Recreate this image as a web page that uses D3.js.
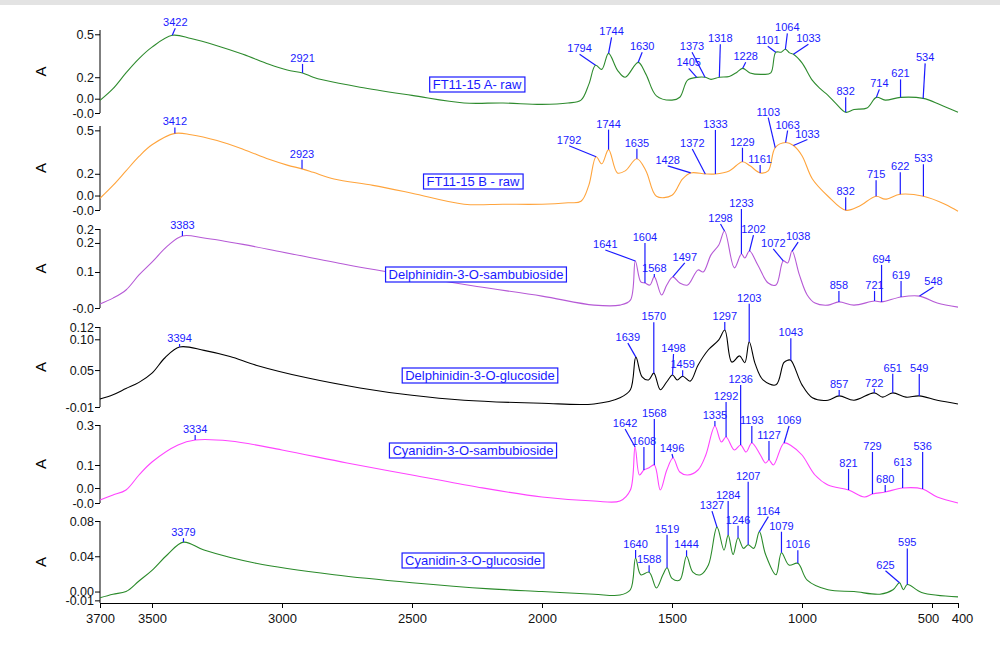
<!DOCTYPE html>
<html><head><meta charset="utf-8">
<script src="https://cdn.jsdelivr.net/npm/d3@7/dist/d3.min.js"></script>
<style>body{margin:0;background:#fff}</style></head>
<body><svg id="c" width="1000" height="650"></svg>
<script>
const names=["FT11-15 A- raw","FT11-15 B - raw","Delphinidin-3-O-sambubioside","Delphinidin-3-O-glucoside","Cyanidin-3-O-sambubioside","Cyanidin-3-O-glucoside"];
const colors=["#2e8b2e","#ffa43c","#b65ad6","#000000","#ff44ff","#2a8a2a"];
const s1=[[3700,0.038],[3650,0.12],[3600,0.23],[3550,0.33],[3500,0.41],[3422,0.493],[3350,0.47],[3250,0.42],[3150,0.36],[3050,0.29],[2980,0.25],[2921,0.23],[2880,0.2],[2840,0.18],[2700,0.13],[2500,0.073],[2300,0.02],[2150,0.02],[2000,0.01],[1900,0.02],[1850,0.04],[1820,0.15],[1794,0.283],[1770,0.255],[1744,0.367],[1710,0.25],[1680,0.2],[1630,0.304],[1600,0.22],[1560,0.07],[1500,0.04],[1470,0.06],[1440,0.18],[1405,0.199],[1373,0.2],[1350,0.185],[1318,0.2],[1280,0.205],[1250,0.235],[1228,0.262],[1200,0.23],[1150,0.22],[1120,0.23],[1101,0.374],[1080,0.375],[1064,0.395],[1048,0.37],[1033,0.36],[1000,0.3],[960,0.178],[930,0.12],[900,0.073],[870,0.017],[832,-0.045],[800,-0.025],[750,-0.015],[714,0.059],[680,0.04],[621,0.059],[534,0.052],[470,0.01],[400,-0.045]];
const s2=[[3700,0.031],[3650,0.12],[3600,0.22],[3550,0.32],[3500,0.4],[3412,0.479],[3350,0.47],[3250,0.43],[3150,0.37],[3050,0.3],[2980,0.26],[2923,0.234],[2880,0.21],[2800,0.164],[2650,0.12],[2500,0.066],[2300,-0.01],[2150,-0.01],[2000,-0.01],[1900,0.0],[1850,0.01],[1820,0.12],[1792,0.318],[1770,0.269],[1744,0.367],[1710,0.206],[1680,0.22],[1635,0.304],[1600,0.22],[1560,0.045],[1500,0.052],[1460,0.164],[1428,0.206],[1372,0.199],[1333,0.199],[1280,0.22],[1229,0.283],[1200,0.255],[1161,0.206],[1130,0.22],[1103,0.381],[1063,0.416],[1033,0.395],[1000,0.325],[960,0.164],[900,0.045],[832,-0.052],[780,-0.024],[715,0.045],[680,0.025],[622,0.059],[533,0.045],[450,-0.01],[400,-0.059]];
const s3=[[3700,-0.01],[3650,0.01],[3600,0.038],[3550,0.09],[3500,0.134],[3440,0.19],[3383,0.224],[3300,0.217],[3150,0.195],[3000,0.169],[2750,0.125],[2500,0.086],[2250,0.05],[2000,0.017],[1800,-0.014],[1700,-0.014],[1660,0.003],[1641,0.138],[1620,0.066],[1604,0.062],[1585,0.055],[1568,0.083],[1540,0.021],[1520,0.055],[1497,0.083],[1470,0.062],[1440,0.055],[1400,0.107],[1380,0.1],[1350,0.159],[1320,0.193],[1298,0.241],[1260,0.114],[1233,0.162],[1220,0.148],[1202,0.172],[1170,0.124],[1130,0.062],[1100,0.055],[1072,0.138],[1055,0.131],[1038,0.172],[1010,0.09],[980,0.021],[950,-0.007],[900,-0.014],[858,-0.003],[800,-0.014],[721,0.0],[694,-0.003],[619,0.014],[548,0.017],[480,-0.007],[400,-0.021]];
const s4=[[3700,0.003],[3650,0.01],[3600,0.02],[3550,0.03],[3500,0.045],[3450,0.07],[3394,0.0875],[3300,0.082],[3200,0.072],[3100,0.058],[2900,0.037],[2700,0.021],[2500,0.009],[2300,0.001],[2000,-0.004],[1800,-0.005],[1700,0.005],[1660,0.018],[1639,0.071],[1615,0.039],[1590,0.034],[1570,0.045],[1545,0.018],[1520,0.031],[1498,0.042],[1480,0.034],[1459,0.04],[1430,0.032],[1400,0.058],[1360,0.083],[1320,0.099],[1297,0.115],[1270,0.063],[1240,0.073],[1220,0.062],[1203,0.096],[1180,0.06],[1150,0.034],[1100,0.026],[1070,0.062],[1055,0.066],[1043,0.066],[1000,0.026],[960,0.005],[900,0.001],[857,0.008],[800,0.001],[722,0.013],[690,0.006],[651,0.013],[600,0.006],[549,0.008],[480,0.001],[400,-0.005]];
const s5=[[3700,-0.075],[3650,-0.05],[3600,-0.025],[3550,0.05],[3500,0.115],[3400,0.2],[3334,0.225],[3200,0.22],[3000,0.175],[2750,0.11],[2500,0.05],[2250,-0.01],[2000,-0.06],[1800,-0.08],[1700,-0.08],[1660,-0.025],[1642,0.19],[1625,0.05],[1608,0.075],[1590,0.085],[1568,0.1],[1545,-0.025],[1520,0.075],[1496,0.135],[1470,0.065],[1440,0.05],[1400,0.075],[1370,0.15],[1335,0.295],[1310,0.215],[1292,0.24],[1260,0.175],[1236,0.2],[1215,0.165],[1193,0.21],[1160,0.15],[1140,0.11],[1127,0.125],[1110,0.1],[1069,0.21],[1040,0.195],[1000,0.15],[950,0.05],[900,0.0],[821,-0.025],[760,-0.06],[729,-0.045],[680,-0.035],[613,-0.015],[536,-0.02],[480,-0.06],[400,-0.09]];
const s6=[[3700,-0.007],[3650,-0.003],[3600,0.0],[3550,0.012],[3500,0.024],[3440,0.042],[3379,0.056],[3300,0.047],[3100,0.032],[2800,0.019],[2500,0.01],[2200,0.003],[2000,0.0],[1800,-0.003],[1700,-0.004],[1660,0.002],[1640,0.038],[1620,0.019],[1588,0.022],[1560,0.004],[1535,0.019],[1519,0.027],[1500,0.015],[1470,0.013],[1444,0.04],[1420,0.022],[1390,0.019],[1360,0.03],[1327,0.073],[1300,0.047],[1284,0.064],[1265,0.042],[1246,0.061],[1225,0.049],[1207,0.053],[1185,0.049],[1164,0.068],[1140,0.042],[1100,0.019],[1079,0.044],[1050,0.03],[1016,0.032],[980,0.013],[900,0.002],[800,0.0],[700,-0.003],[650,0.002],[625,0.01],[610,0.002],[595,0.008],[540,-0.001],[400,-0.006]];
const series=[s1,s2,s3,s4,s5,s6];
const yDomains=[[-0.05,0.53],[-0.05,0.53],[-0.024,0.248],[-0.01,0.12],[-0.09,0.3],[-0.013,0.08]];
const yTicks=[[0.5,0.2,0.05,-0.05],[0.5,0.2,0.05,-0.05],[0.248,0.2,0.1,-0.024],[0.12,0.10,0.05,-0.01],[0.3,0.1,-0.015,-0.09],[0.08,0.04,0.0,-0.01]];
const yTickLabels=[["0.5","0.2","0.0","-0.0"],["0.5","0.2","0.0","-0.0"],["0.2","0.2","0.1","-0.0"],["0.12","0.10","0.05","-0.01"],["0.3","0.1","0.0","-0.0"],["0.08","0.04","0.00","-0.01"]];
const xTicks=[3700,3500,3000,2500,2000,1500,1000,500,400];
const peaks=[[3422,2921,1794,1744,1630,1405,1373,1318,1228,1101,1064,1033,832,714,621,534],
[3412,2923,1792,1744,1635,1428,1372,1333,1229,1161,1103,1063,1033,832,715,622,533],
[3383,1641,1604,1568,1497,1298,1233,1202,1072,1038,858,721,694,619,548],
[3394,1639,1570,1498,1459,1297,1203,1043,857,722,651,549],
[3334,1642,1608,1568,1496,1335,1292,1236,1193,1127,1069,821,729,680,613,536],
[3379,1640,1588,1519,1444,1327,1284,1246,1207,1164,1079,1016,625,595]];
const peakOffsets=[[[3,-9],[0,-11],[-16,-13],[3,-18],[4,-12],[-8,-11],[-13,-27],[1,-35],[3,-8],[-8,-8],[2,-18],[15,-12],[0,-17],[3,-10],[0,-20],[2,-37]],
[[0,-8],[0,-11],[-27,-13],[0,-22],[0,-12],[-23,-9],[-13,-27],[0,-46],[0,-16],[0,-10],[-7,-32],[2,-14],[14,-8],[0,-15],[0,-18],[0,-24],[0,-34]],
[[0,-7],[-30,-13],[0,-42],[0,-5],[12,-16],[-4,-9],[0,-47],[4,-18],[-10,-14],[6,-11],[0,-13],[0,-12],[0,-39],[0,-18],[14,-11]],
[[0,-5],[-8,-16],[0,-53],[1,-23],[0,-8],[0,-10],[0,-40],[0,-24],[0,-8],[0,-6],[0,-21],[0,-24]],
[[0,-7],[-10,-20],[0,-25],[0,-48],[-1,-6],[0,-7],[0,-37],[0,-62],[0,-19],[0,-21],[5,-19],[0,-23],[0,-44],[0,-9],[0,-22],[0,-39]],
[[0,-6],[0,-10],[0,-9],[0,-35],[0,-8],[-5,-18],[0,-36],[0,-14],[0,-65],[9,-17],[0,-23],[0,-15],[-14,-14],[0,-38]]];
const panelPx=[[30,113],[126,210],[229,308],[327,407],[425,503],[521,603]];
const namePos=[[477,84],[473,181],[476,274],[480,375],[473,450],[473,560]];

const svg=d3.select("#c");
svg.append("rect").attr("x",0).attr("y",0).attr("width",1000).attr("height",5).attr("fill","#e3e3e3");
const x=d3.scaleLinear().domain([3700,400]).range([100,958]);
const blue="#1a1aff";
series.forEach((s,i)=>{
  const [t,b]=panelPx[i];
  const y=d3.scaleLinear().domain(yDomains[i]).range([b,t]);
  const g=svg.append("g");
  const ax=d3.axisLeft(y).tickValues(yTicks[i]).tickFormat((d,j)=>yTickLabels[i][j]).tickSize(5).tickSizeOuter(0);
  const ag=g.append("g").attr("transform","translate(100,0)").call(ax);
  ag.select(".domain").attr("d",`M0,${t}V${b}`);
  ag.selectAll("text").attr("font-family","Arial, Liberation Sans").attr("font-size",12.5).attr("fill","#111").attr("x",-6);
  g.append("text").attr("transform",`translate(46,${(t+b)/2}) rotate(-90)`).attr("text-anchor","middle")
    .attr("font-family","Arial, Liberation Sans").attr("font-size",15).text("A");
  const line=d3.line().x(d=>x(d[0])).y(d=>y(d[1])).curve(d3.curveCatmullRom.alpha(0.5));
  g.append("path").datum(s).attr("d",line).attr("fill","none").attr("stroke",colors[i]).attr("stroke-width",1.1);
  const interp=w=>{for(let k=0;k<s.length-1;k++){if(w<=s[k][0]&&w>=s[k+1][0]){const f=(s[k][0]-w)/(s[k][0]-s[k+1][0]);return s[k][1]+f*(s[k+1][1]-s[k][1]);}}return 0;};
  peaks[i].forEach((w,j)=>{
    const [dx,dy]=peakOffsets[i][j];
    const px=x(w),py=y(interp(w));
    g.append("line").attr("x1",px).attr("y1",py).attr("x2",px+dx).attr("y2",py+dy+2).attr("stroke",blue).attr("stroke-width",1.2);
    g.append("text").attr("x",px+dx).attr("y",py+dy).attr("text-anchor","middle").attr("font-family","Arial, Liberation Sans")
      .attr("font-size",11).attr("fill",blue).text(w);
  });
  const rect=g.append("rect");
  const tx=g.append("text").attr("x",namePos[i][0]).attr("y",namePos[i][1]+5).attr("text-anchor","middle")
    .attr("font-family","Arial, Liberation Sans").attr("font-size",13).attr("fill",blue).text(names[i]);
  const bb=tx.node().getBBox();
  rect.attr("x",bb.x-3).attr("y",bb.y).attr("width",bb.width+6).attr("height",bb.height).attr("fill","#fff").attr("stroke",blue).attr("stroke-width",1.2);
});
const xa=svg.append("g").attr("transform","translate(0,603)").call(d3.axisBottom(x).tickValues(xTicks).tickFormat(d3.format("d")).tickSize(5).tickSizeOuter(0));
xa.selectAll("text").attr("font-family","Arial, Liberation Sans").attr("font-size",13).attr("fill","#111").attr("dy","0.9em");
xa.selectAll(".tick").filter(d=>d===500).select("text").attr("dx","-4");
xa.selectAll(".tick").filter(d=>d===400).select("text").attr("dx","4");
</script></body></html>
